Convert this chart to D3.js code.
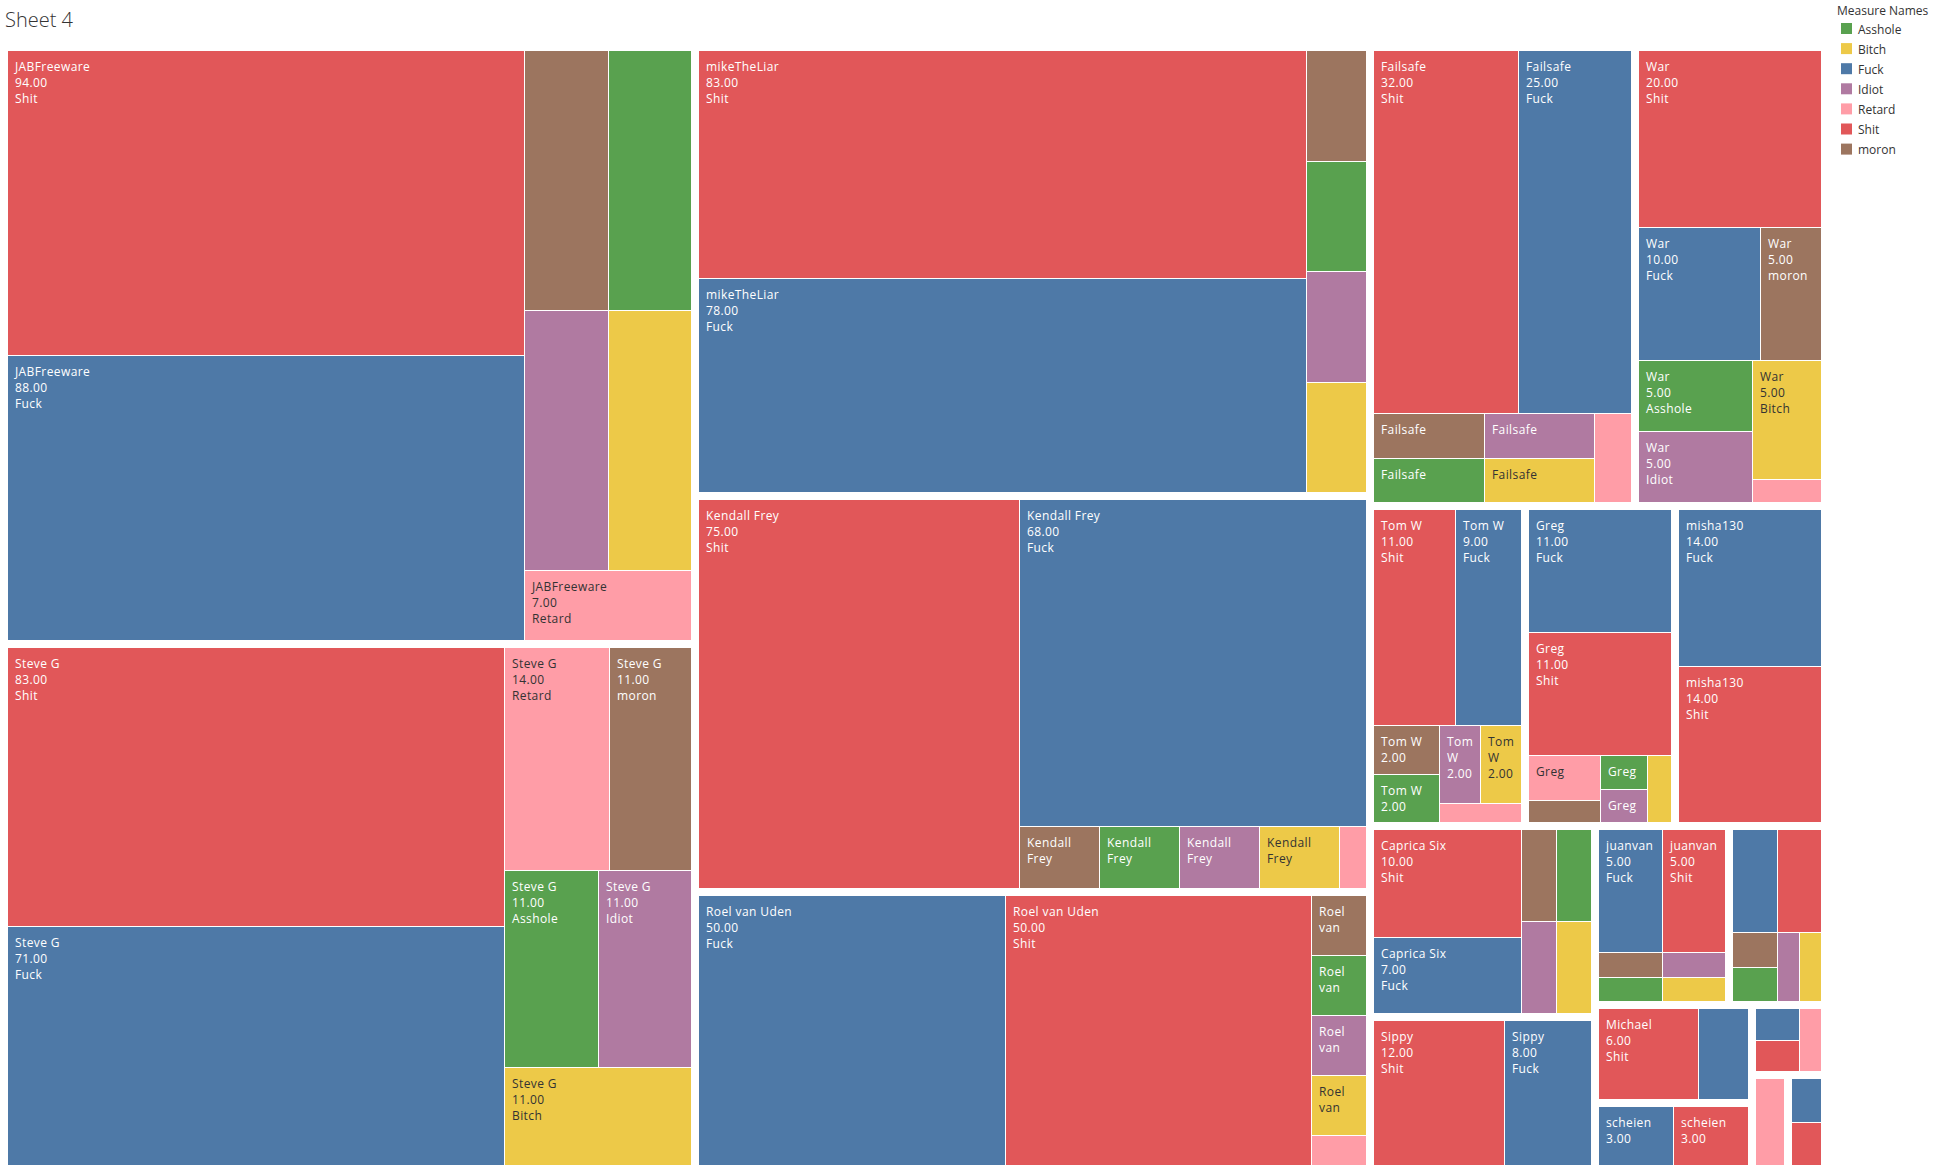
<!DOCTYPE html>
<html><head><meta charset="utf-8">
<script src="https://cdn.jsdelivr.net/npm/d3@7"></script>
<style>
body{margin:0;background:#fff;}
svg{display:block;font-family:"Open Sans",sans-serif;}
</style>
</head><body>
<svg id="chart" width="1952" height="1168"></svg>
<script>
// ---- data ----
const users = ["JABFreeware","Steve G","mikeTheLiar","Kendall Frey","Roel van Uden","Failsafe","War",
  "Tom W","Greg","misha130","Caprica Six","Sippy","juanvan","anonymoususer1","Michael","scheien",
  "anonymoususer2","anonymoususer3","anonymoususer4"];
const measures = ["Fuck","Shit","moron","Asshole","Idiot","Bitch","Retard"];
const fuckVals    = [88,71,78,68,50,25,10, 9,11,14, 7, 8,5,3,3,3,1,0,1];
const shitVals    = [94,83,83,75,50,32,20,11,11,14,10,12,5,3,6,3,1,0,1];
const moronVals   = [13,11, 4, 3, 2, 3, 5, 2, 1, 0, 2, 0,1,1,0,0,0,0,0];
const assholeVals = [13,11, 4, 3, 2, 3, 5, 2, 1, 0, 2, 0,1,1,0,0,0,0,0];
const idiotVals   = [13,11, 4, 3, 2, 3, 5, 2, 1, 0, 2, 0,1,1,0,0,0,0,0];
const bitchVals   = [13,11, 4, 3, 2, 3, 5, 2, 1, 0, 2, 0,1,1,0,0,0,0,0];
const retardVals  = [ 7,14, 0, 1, 1, 2, 1, 1, 2, 0, 0, 0,0,0,0,0,1,2,0];
const legendNames  = ["Asshole","Bitch","Fuck","Idiot","Retard","Shit","moron"];
const legendColors = ["#59a14f","#edc948","#4e79a7","#b07aa1","#ff9da7","#e15759","#9c755f"];

const series = [fuckVals, shitVals, moronVals, assholeVals, idiotVals, bitchVals, retardVals];
const color = d3.scaleOrdinal().domain(legendNames).range(legendColors);
const darkText = new Set(["Bitch","Retard"]);

const svg = d3.select("#chart");

// title
svg.append("text").attr("x",5).attr("y",27).attr("font-size",20).attr("font-weight",300)
  .attr("fill","#333").text("Sheet 4");

// hierarchy
const data = {name:"root", children: users.map((u,i)=>({
  name:u,
  children: measures.map((m,j)=>({name:m, user:u, value: series[j][i]})).filter(d=>d.value>0)
}))};
const root = d3.hierarchy(data).sum(d=>d.value||0).sort((a,b)=>b.value-a.value);
const X0 = 8, Y0 = 51, W = 1813, H = 1114;
d3.treemap().tile(d3.treemapSquarify).size([W,H])
  .paddingInner(d=>d.depth===0?8:1)(root);

const g = svg.append("g").attr("transform",`translate(${X0},${Y0})`);
const leaves = root.leaves();

const LS = 0.4;
const ctx = document.createElement("canvas").getContext("2d");
ctx.font = "12px 'Open Sans'";
const tw = s => ctx.measureText(s).width + LS*s.length;

const cell = g.selectAll("g.cell").data(leaves).join("g").attr("class","cell");
cell.append("rect")
  .attr("x",d=>Math.round(d.x0)).attr("y",d=>Math.round(d.y0))
  .attr("width",d=>Math.max(0,Math.round(d.x1)-Math.round(d.x0)))
  .attr("height",d=>Math.max(0,Math.round(d.y1)-Math.round(d.y0)))
  .attr("fill",d=>color(d.data.name));

cell.each(function(d){
  const x0 = Math.round(d.x0), y0 = Math.round(d.y0);
  const w = Math.round(d.x1)-x0, h = Math.round(d.y1)-y0;
  const avail = w - 11;
  const words = d.data.user.split(" ");
  const nameLines = [];
  let cur = "";
  for (const wd of words){
    const t = cur ? cur+" "+wd : wd;
    if (tw(t) <= avail) cur = t;
    else { if (cur) nameLines.push(cur); cur = wd; }
  }
  if (cur) nameLines.push(cur);
  const lines = nameLines.concat([d.data.value.toFixed(2), d.data.name]);
  const shown = [];
  for (let i=0;i<lines.length;i++){
    if (20+16*i+10 > h) break;
    if (tw(lines[i]) > avail) break;
    shown.push(lines[i]);
  }
  const sel = d3.select(this);
  shown.forEach((s,i)=>{
    sel.append("text").attr("x",x0+7).attr("y",y0+20+16*i)
      .attr("font-size",12).attr("letter-spacing",LS)
      .attr("fill", darkText.has(d.data.name) ? "#333" : "#fff")
      .text(s);
  });
});

// legend
const lg = svg.append("g").attr("transform","translate(1837,0)");
lg.append("text").attr("x",0).attr("y",15).attr("font-size",12).attr("fill","#333").text("Measure Names");
const li = lg.selectAll("g.li").data(legendNames).join("g").attr("class","li")
  .attr("transform",(d,i)=>`translate(0,${23+i*20.1})`);
li.append("rect").attr("x",4).attr("y",0).attr("width",11).attr("height",11).attr("fill",d=>color(d));
li.append("text").attr("x",21).attr("y",10.5).attr("font-size",12).attr("fill","#333").text(d=>d);
</script>
</body></html>
